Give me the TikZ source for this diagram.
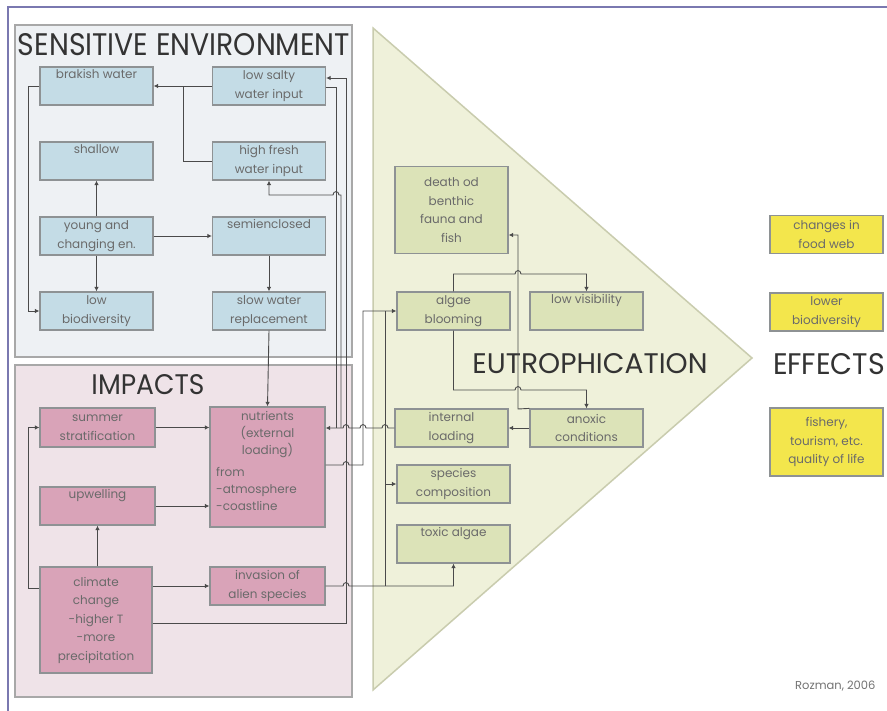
\documentclass[tikz,border=0pt]{standalone}
\usepackage{fontspec}
\setmainfont{Poppins}
\usepackage{graphicx}
\usetikzlibrary{arrows.meta}
\definecolor{framecol}{HTML}{7A78B0}
\definecolor{sensfill}{HTML}{EEF1F4}
\definecolor{impfill}{HTML}{EFE3E8}
\definecolor{panelline}{HTML}{A8A8A8}
\definecolor{bluebox}{HTML}{C4DCE6}
\definecolor{pinkbox}{HTML}{D9A3B8}
\definecolor{greenbox}{HTML}{DCE3B8}
\definecolor{yellowbox}{HTML}{F3E64C}
\definecolor{trifill}{HTML}{EFF1DA}
\definecolor{triline}{HTML}{C9CCAE}
\definecolor{boxline}{HTML}{8E9294}
\definecolor{conncol}{HTML}{4A4A4A}
\definecolor{boxtext}{HTML}{6A6A6A}
\definecolor{titlecol}{HTML}{333333}
\tikzset{
  box/.style={draw=boxline, line width=1.2pt, inner sep=1pt, align=center, text=boxtext,
    font=\fontsize{12}{18.5}\selectfont, minimum width=113pt, minimum height=38pt},
  bluebx/.style={box, fill=bluebox},
  pinkbx/.style={box, fill=pinkbox},
  greenbx/.style={box, fill=greenbox},
  yellowbx/.style={box, fill=yellowbox},
  boxtxt/.style={inner sep=0pt, text=boxtext, font=\fontsize{12}{17}\selectfont},
  title/.style={inner sep=0pt, text=titlecol},
  conn/.style={draw=conncol, line width=0.9pt},
  arr/.style={conn, -{Latex[length=4.5pt,width=4.5pt]}},
  hopR/.style 2 args={insert path={-- (#1-3,#2) .. controls (#1-3,#2-4.5) and (#1+3,#2-4.5) .. (#1+3,#2)}},
  hopL/.style 2 args={insert path={-- (#1+3,#2) .. controls (#1+3,#2-4.5) and (#1-3,#2-4.5) .. (#1-3,#2)}},
}
\begin{document}
\begin{tikzpicture}[x=1pt,y=-1pt]
\useasboundingbox[fill=white] (0,0) rectangle (887,711);
% outer frame
\draw[framecol, line width=2pt] (8,711) -- (8,7) -- (887,7);
% panels
\draw[panelline, fill=sensfill, line width=2pt] (15,25) rectangle (352,357);
\draw[panelline, fill=impfill, line width=2pt] (15,365) rectangle (352,697);
% triangle
\draw[triline, fill=trifill, line width=1.5pt] (373,28) -- (752,358) -- (373,690) -- cycle;

% titles
\node[title] (tsens) at (184,45) {\resizebox{332pt}{22pt}{SENSITIVE ENVIRONMENT}};
\node[title] (timp) at (148,385) {\resizebox{113pt}{20pt}{IMPACTS}};
\node[title] (teut) at (590,364) {\resizebox{235pt}{20pt}{EUTROPHICATION}};
\node[title] (teff) at (829,364) {\resizebox{112pt}{21pt}{EFFECTS}};
\node[anchor=west, inner sep=0pt, text=black!55, font=\fontsize{11.5}{11.5}\selectfont] (credit) at (795,686) {Rozman, 2006};

% sensitive environment boxes
\node[bluebx] (brak) at (96.5,86) {brakish water\\\strut};
\node[bluebx] (lowsalt) at (269,86) {low salty\\water input};
\node[bluebx] (shallow) at (96.5,161) {shallow\\\strut};
\node[bluebx] (highfresh) at (269,161) {high fresh\\water input};
\node[bluebx] (young) at (96.5,236) {young and\\changing en.};
\node[bluebx] (semi) at (269,236) {semienclosed\\\strut};
\node[bluebx] (lowbio) at (96.5,311) {low\\biodiversity};
\node[bluebx] (slow) at (269,311) {slow water\\replacement};

% impacts boxes
\node[pinkbx, minimum width=115pt, minimum height=39pt] (summer) at (97.5,427.5) {summer\\stratification};
\node[pinkbx, minimum width=115pt] (upwell) at (97.5,506) {upwelling\\\strut};
\node[pinkbx, minimum width=112pt, minimum height=106pt] (climate) at (96,620) {climate\\change\\-higher T\\-more\\precipitation};
\node[pinkbx, minimum width=115pt, minimum height=120pt] (nutr) at (267.5,467) {};
\node[boxtxt, align=center, anchor=north] (nutrA) at (267.5,411) {nutrients\\(external\\loading)};
\node[boxtxt, align=left, anchor=north west] (nutrB) at (216,467) {from\\-atmosphere\\-coastline};
\node[pinkbx, minimum width=115pt] (invas) at (267.5,586) {invasion of\\alien species};

% eutrophication boxes
\node[greenbx, minimum height=87pt] (death) at (451.5,210) {death od\\benthic\\fauna and\\fish};
\node[greenbx] (algae) at (453.5,311) {algae\\blooming};
\node[greenbx] (lowvis) at (586.5,311) {low visibility\\\strut};
\node[greenbx] (internal) at (451.5,428) {internal\\loading};
\node[greenbx] (anoxic) at (586.5,428) {anoxic\\conditions};
\node[greenbx] (species) at (453.5,484) {species\\composition};
\node[greenbx] (toxic) at (453.5,544) {toxic algae\\\strut};

% effects boxes
\node[yellowbx] (food) at (826.5,234.5) {changes in\\food web};
\node[yellowbx] (lbio) at (826.5,312) {lower\\biodiversity};
\node[yellowbx, minimum height=68pt] (fish) at (826.5,442) {fishery,\\tourism, etc.\\quality of life};

% helper coordinates
\coordinate (y78) at (0,78);
\coordinate (y87) at (0,87);
\coordinate (y465) at (0,465);
\coordinate (y588) at (0,588);
\coordinate (y623) at (0,623);
\coordinate (y235) at (0,235);

% sensitive environment connectors
\draw[arr] (lowsalt.west) -- (brak.east);
\draw[conn] (highfresh.west) -- (183,161) -- (183,86);
\draw[arr] (young.north) -- (shallow.south);
\draw[arr] (young.south) -- (lowbio.north);
\draw[arr] (young.east) -- (semi.west);
\draw[arr] (semi.south) -- (slow.north);
\draw[arr] (brak.west) -- (28,86) -- (28,311) -- (lowbio.west);
\draw[arr] (slow.south) -- (nutr.north);

% long vertical connectors
\draw[arr] (climate.east |- y623) -- (346,623) -- (346,78) -- (lowsalt.east |- y78);
\draw[conn] (lowsalt.east |- y87) -- (336,87) -- (336,428);
\draw[arr] (341,428) -- (341,195) [hopL={336}{195}] -- (269,195) -- (highfresh.south);
\draw[arr] (internal.west) [hopL={385}{428}] [hopL={363}{428}] [hopL={346}{428}] -- (nutr.east |- internal.west);
\draw[arr] (nutr.east |- y465) [hopR={346}{465}] -- (363,465) -- (363,311) -- (algae.west);
\draw[arr] (invas.east) [hopR={346}{586}] -- (toxic.south |- invas.east) -- (toxic.south);
\draw[conn] (385,586) -- (385,311);
\draw[arr] (385,484) -- (species.west);

% impacts connectors
\draw[arr] (climate.west |- y588) -- (28,588) -- (28,427.5) -- (summer.west);
\draw[arr] (upwell.south |- climate.north) -- (upwell.south);
\draw[arr] (climate.east |- invas.west) -- (invas.west);
\draw[arr] (summer.east) -- (nutr.west |- summer.east);
\draw[arr] (upwell.east) -- (nutr.west |- upwell.east);

% eutrophication connectors
\draw[arr] (algae.north) -- (453.5,274) [hopR={518}{274}] -- (586.5,274) -- (lowvis.north);
\draw[arr] (algae.south) -- (453.5,390) [hopR={518}{390}] -- (586.5,390) -- (anoxic.north);
\draw[arr] (anoxic.north west) -- (518,409) -- (518,235) -- (death.east |- y235);
\draw[arr] (anoxic.west) -- (internal.east);
\end{tikzpicture}
\end{document}
